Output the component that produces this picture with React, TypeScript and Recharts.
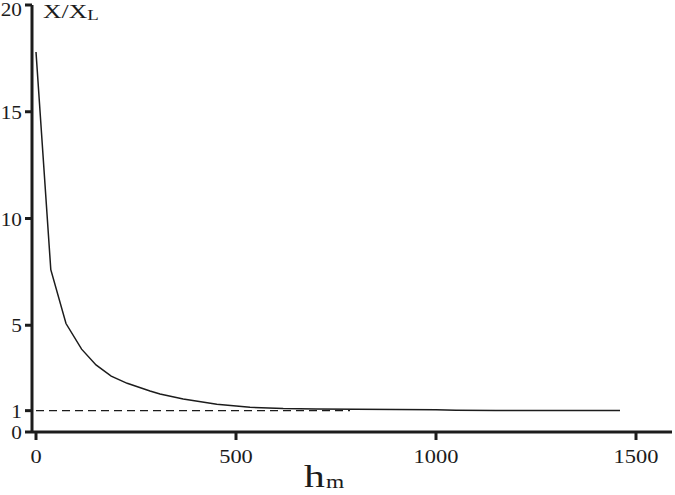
import { LineChart, Line, XAxis, YAxis, Label } from "recharts"

// h_m values and X/X_L ratio
const hm = [0, 37, 75, 114, 150, 188, 228, 285, 310, 368, 452, 535, 618, 700, 800, 900, 1000, 1050, 1150, 1250, 1350, 1460]
const ratio = [17.8, 7.6, 5.08, 3.88, 3.14, 2.62, 2.28, 1.92, 1.78, 1.55, 1.3, 1.16, 1.1, 1.08, 1.06, 1.05, 1.04, 1.02, 1.01, 1.01, 1.01, 1.01]

// dashed reference at X/X_L = 1
const dashH = [0, 785]
const dashRatio = [1, 1]

const xTicks = [0, 500, 1000, 1500]
const yTicks = [0, 1, 5, 10, 15, 20]

const curve = hm.map((h, i) => ({ h, r: ratio[i] }))
const dashed = dashH.map((h, i) => ({ h, r: dashRatio[i] }))

const ink = "#1c1c1c"
const serif = "'Liberation Serif', 'Times New Roman', serif"

// the source figure's lettering is stretched sideways, so widen it with scaleX
function YTick({ x, y, payload }: any) {
  // top label sits a little below its tick in the original
  const base = Math.max(y + 7, 16)
  return (
    <text transform={`translate(${x},${base}) scale(1.15,1)`} textAnchor="end" fill={ink} fontSize={18.5} fontFamily={serif}>
      {payload.value}
    </text>
  )
}

function XTick({ x, y, payload }: any) {
  return (
    <text transform={`translate(${x},${y + 20}) scale(1.15,1)`} textAnchor="middle" fill={ink} fontSize={19.5} fontFamily={serif}>
      {payload.value}
    </text>
  )
}

export default function App() {
  return (
    <div style={{ position: "absolute", left: 0, top: 0, background: "#fff" }}>
      <LineChart width={675} height={495} margin={{ top: 5, right: 3, left: 0, bottom: 0 }}>
        <XAxis
          type="number"
          dataKey="h"
          domain={[-10, 1590]}
          ticks={xTicks}
          interval={0}
          allowDataOverflow
          height={63}
          tickSize={8}
          tickMargin={3}
          tick={<XTick />}
          tickLine={{ stroke: ink, strokeWidth: 3 }}
          axisLine={{ stroke: ink, strokeWidth: 3 }}
        >
          <Label
            content={() => (
              <text transform="translate(304,487) scale(1.3,1)" fill={ink} fontFamily={serif}>
                <tspan fontSize={32}>h</tspan>
                <tspan fontSize={18} dy={1} dx={1}>m</tspan>
              </text>
            )}
          />
        </XAxis>
        <YAxis
          type="number"
          dataKey="r"
          domain={[0, 20]}
          ticks={yTicks}
          interval={0}
          width={32}
          tickSize={7}
          tickMargin={3}
          tick={<YTick />}
          tickLine={{ stroke: ink, strokeWidth: 3 }}
          axisLine={{ stroke: ink, strokeWidth: 3 }}
        >
          <Label
            content={() => (
              <text transform="translate(43,18) scale(1.35,1)" fill={ink} fontFamily={serif}>
                <tspan fontSize={19}>X/X</tspan>
                <tspan fontSize={14} dy={2}>L</tspan>
              </text>
            )}
          />
        </YAxis>
        <Line
          data={dashed}
          dataKey="r"
          type="linear"
          stroke={ink}
          strokeWidth={1.3}
          strokeDasharray="8 5"
          dot={false}
          isAnimationActive={false}
        />
        <Line
          data={curve}
          dataKey="r"
          type="linear"
          stroke={ink}
          strokeWidth={1.5}
          dot={false}
          isAnimationActive={false}
        />
      </LineChart>
    </div>
  )
}
